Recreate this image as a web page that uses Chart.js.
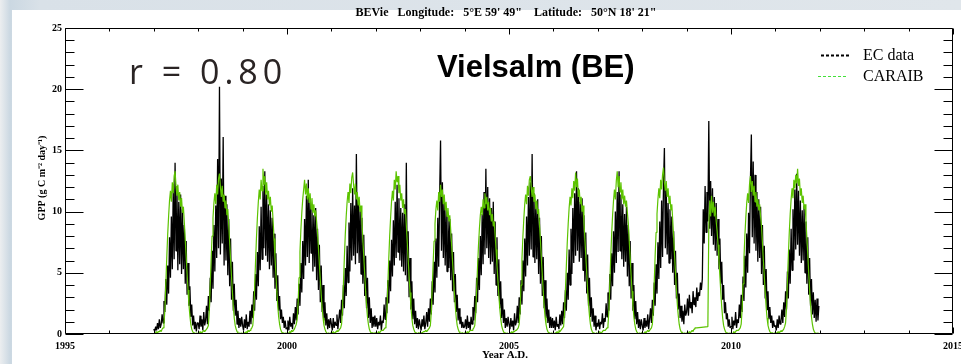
<!DOCTYPE html>
<html>
<head>
<meta charset="utf-8">
<title>Vielsalm GPP</title>
<script src="https://cdn.jsdelivr.net/npm/chart.js@4.4.1/dist/chart.umd.min.js"></script>
<style>
  html, body { margin: 0; padding: 0; }
  body {
    width: 961px; height: 364px; overflow: hidden; position: relative;
    background: linear-gradient(to right, #eceef0 0px, #cbd8e2 10px, #d9e1e8 40px, #e0e6eb 100%);
  }
  #panel { position: absolute; left: 12px; top: 10px; right: 0; bottom: 0; background: #fff; }
  #c { position: absolute; left: 0; top: 0; }
</style>
</head>
<body>
<div id="panel"></div>
<canvas id="c" width="961" height="364"></canvas>
<script>
// Daily GPP at Vielsalm, sampled 48 times per year (g C m-2 day-1)
const years = [1997, 1998, 1999, 2000, 2001, 2002, 2003, 2004, 2005, 2006, 2007, 2008, 2009, 2010, 2011];
const samplesPerYear = 48;

// Eddy-covariance observations
const ec1997 = [0.4,0.2,0.6,0.3,0.9,0.4,1.2,0.5,0.8,1.6, 0.9,2.7,1.8,4.5,2.4,5.6,3.3,7.9,4.6,9.6, 5.3,11.8,6.1,14.0,6.8,12.1,5.2,10.8,5.7,11.4, 4.9,10.2,5.3,8.9,4.1,7.6,3.2,5.8,2.3,3.9, 1.4,2.4,0.7,1.5,0.4,1.0,0.2,0.9];
const ec1998 = [0.9,0.4,1.5,0.6,1.2,0.3,1.8,0.7,1.1,2.3, 0.8,3.1,1.9,4.6,2.6,6.8,3.7,8.9,5.1,10.5, 6.2,14.3,7.0,20.2,6.5,12.7,7.4,16.1,5.6,11.3, 6.0,10.6,4.8,9.4,3.9,7.8,2.8,5.9,1.9,4.1, 1.5,2.8,0.8,1.9,0.5,1.3,0.6,1.4];
const ec1999 = [0.7,0.3,1.2,0.5,1.6,0.4,1.0,0.6,1.9,0.8, 2.4,1.3,3.5,1.9,4.9,2.8,6.7,3.9,8.8,5.2, 10.4,6.1,12.1,7.0,13.3,6.4,11.4,5.9,10.6,5.3, 10.1,5.6,9.5,4.6,8.2,3.7,6.6,2.7,4.8,1.9, 3.1,1.2,2.0,0.9,1.4,0.5,1.1,0.4];
const ec2000 = [0.5,1.1,0.3,1.4,0.6,0.9,0.4,1.7,0.8,2.2, 1.1,2.9,1.6,4.1,2.3,5.8,3.4,7.6,4.5,9.4, 5.6,11.3,6.3,12.6,5.8,11.0,6.6,10.4,5.1,9.7, 5.5,10.3,4.4,8.6,3.6,7.3,2.6,5.6,1.8,4.0, 1.1,2.6,0.7,1.7,0.4,1.2,0.5,1.3];
const ec2001 = [0.8,0.3,1.3,0.5,1.0,0.7,1.6,0.4,1.2,2.0, 0.9,2.8,1.5,4.0,2.1,5.4,3.1,7.2,4.2,9.1, 5.1,10.7,6.0,11.9,6.4,10.5,5.7,14.7,6.6,10.9, 5.8,10.4,4.9,9.5,4.1,8.1,3.1,6.4,2.1,4.6, 1.3,3.0,0.9,2.1,0.5,1.4,0.6,1.5];
const ec2002 = [0.6,1.3,0.4,1.0,0.7,1.5,0.3,1.1,0.9,2.4, 1.2,3.0,1.7,4.4,2.5,6.0,3.5,7.7,4.7,9.3, 5.6,10.8,6.2,12.2,6.7,11.1,6.0,10.3,5.5,9.9, 5.1,10.6,4.8,14.0,4.3,8.4,3.0,6.2,2.0,4.3, 1.2,2.9,0.8,1.9,0.5,1.3,0.4,1.2];
const ec2003 = [0.7,0.3,1.2,0.6,1.5,0.4,0.9,1.8,0.6,2.1, 1.0,2.9,1.6,4.3,2.4,5.9,3.4,7.8,4.6,9.5, 5.5,11.2,15.8,6.8,12.4,6.2,10.9,5.6,10.2,5.1, 9.8,5.4,9.4,4.4,8.2,3.5,6.7,2.6,4.9,1.8, 3.2,1.1,2.1,0.8,1.4,0.5,1.0,0.5];
const ec2004 = [0.6,1.2,0.4,1.5,0.5,1.0,0.3,1.4,0.8,2.2, 1.1,3.1,1.7,4.6,2.6,6.2,3.6,8.0,4.8,9.8, 5.7,11.6,6.5,13.5,7.0,12.0,6.2,11.1,5.7,10.3, 5.9,10.8,4.9,9.2,4.0,7.9,3.1,6.1,2.1,4.3, 1.3,2.9,0.9,2.0,0.5,1.3,0.6,1.4];
const ec2005 = [0.8,0.4,1.3,0.6,1.1,0.3,1.7,0.7,1.0,2.3, 0.9,3.0,1.6,4.4,2.4,6.0,3.5,7.8,4.7,9.6, 5.6,11.2,6.4,12.4,6.9,14.7,6.3,11.5,5.8,10.6, 6.1,11.0,4.9,9.5,4.1,8.0,3.1,6.3,2.1,4.4, 1.3,2.9,0.9,2.0,0.5,1.4,0.5,1.3];
const ec2006 = [0.5,1.1,0.3,1.4,0.6,0.8,0.4,1.6,0.7,1.9, 0.8,2.6,1.3,3.6,1.9,5.0,2.8,6.9,4.0,8.6, 4.9,10.3,5.8,11.5,6.4,13.3,6.8,11.9,5.9,10.8, 6.2,11.1,5.2,9.7,4.3,8.3,3.3,6.5,2.3,4.6, 1.4,3.0,1.0,2.1,0.6,1.5,0.3,0.9];
const ec2007 = [0.6,1.2,0.4,1.0,0.8,1.7,0.5,1.3,1.0,2.5, 1.4,3.4,1.9,4.9,2.8,6.6,3.9,8.4,5.0,10.0, 5.8,11.6,6.7,13.3,6.8,11.4,6.1,10.6,5.5,9.8, 5.9,10.4,4.7,8.9,3.9,7.6,2.9,5.8,1.9,4.0, 1.2,2.7,0.8,1.8,0.5,1.2,0.4,1.2];
const ec2008 = [0.7,0.3,1.3,0.5,1.1,0.6,1.6,0.4,1.2,2.1, 0.9,2.8,1.5,4.2,2.3,5.7,3.3,7.5,4.5,9.2, 5.4,10.9,6.3,12.1,15.2,7.0,11.8,6.5,10.7,5.8, 10.2,6.1,9.6,5.0,8.4,4.0,6.8,2.9,5.0,2.0, 3.3,1.3,2.3,1.0,1.9,0.8,2.4,1.5];
const ec2009 = [1.8,2.9,1.5,3.2,2.1,2.6,1.7,3.5,2.4,3.0, 2.2,3.8,2.7,3.4,3.1,4.2,3.6,4.5,10.2,7.4, 12.1,8.3,11.6,9.2,17.4,8.6,12.5,8.0,11.9,7.3, 11.2,6.8,10.7,6.4,9.4,5.3,7.8,4.1,5.9,2.8, 4.0,1.7,2.6,1.2,1.7,0.6,1.2,0.5];
const ec2010 = [0.6,1.4,0.4,1.1,0.7,1.8,0.5,1.2,0.9,2.4, 1.3,3.2,1.8,4.7,2.7,6.4,3.8,8.2,5.0,9.9, 6.6,12.5,16.3,7.9,14.1,7.4,13.0,6.8,11.6,5.9, 11.0,6.2,10.4,4.9,8.9,4.0,7.2,2.9,5.3,2.0, 3.5,1.2,2.2,0.9,1.5,0.5,1.1,0.6];
const ec2011 = [0.7,0.3,1.2,0.5,1.5,0.8,1.0,2.0,0.9,2.6, 1.4,3.5,2.0,5.1,2.9,6.9,4.1,8.6,5.2,10.2, 6.0,11.8,6.9,13.1,7.3,11.7,6.4,10.9,5.8,10.1, 6.0,10.5,5.0,9.2,4.1,7.9,3.2,6.2,2.3,4.5, 1.6,3.4,1.3,2.8,1.0,2.9,1.1,2.3];

// CARAIB model output (null = no model value)
const car1997 = [0.0,0.1,0.1,0.2,0.1,0.2,0.2,0.3,0.2,0.4, 0.5,0.8,2.0,4.1,6.2,8.1,9.6,10.9,11.7,10.8, 12.4,11.5,12.9,13.3,12.1,11.3,12.2,10.9,11.6,10.4, 11.1,9.9,10.4,9.1,7.7,6.3,4.9,3.6,2.4,1.5, 0.8,0.4,0.2,0.1,0.1,0.0,0.1,0.0];
const car1998 = [0.1,0.0,0.2,0.1,0.1,0.2,0.3,0.2,0.3,0.4, 0.5,0.7,1.9,4.0,6.1,8.0,9.5,10.7,11.5,10.6, 12.2,11.4,12.7,13.1,12.0,11.2,12.1,10.8,11.4,10.3, 10.9,9.7,10.2,8.9,7.5,6.1,4.7,3.4,2.2,1.3, 0.7,0.4,0.2,0.1,0.0,0.1,0.0,0.1];
const car1999 = [0.0,0.1,0.1,0.1,0.2,0.1,0.3,0.2,0.3,0.4, 0.5,0.7,1.7,3.8,5.9,7.9,9.5,10.8,11.8,11.0, 12.6,11.7,13.5,12.2,12.9,11.4,12.4,11.0,11.7,10.5, 11.2,10.0,10.5,9.2,7.8,6.3,4.9,3.5,2.3,1.4, 0.8,0.4,0.2,0.1,0.1,0.0,0.1,0.0];
const car2000 = [0.1,0.0,0.1,0.2,0.1,0.3,0.2,0.3,0.4,0.6, 0.8,1.2,2.5,4.6,6.7,8.5,9.9,11.0,11.8,12.6, 11.4,12.3,11.0,11.9,10.7,11.5,10.2,11.1,9.9,10.6, 9.6,10.1,9.2,8.3,7.0,5.7,4.4,3.2,2.1,1.3, 0.7,0.4,0.2,0.1,0.0,0.1,0.0,0.1];
const car2001 = [0.0,0.1,0.2,0.1,0.1,0.2,0.3,0.2,0.3,0.4, 0.5,0.8,2.0,4.1,6.2,8.1,9.6,10.8,11.6,10.7, 12.3,11.5,12.8,13.2,12.2,11.4,12.3,11.0,11.6,10.5, 11.2,10.0,10.5,9.2,7.7,6.3,4.9,3.5,2.3,1.4, 0.8,0.4,0.2,0.1,0.1,0.1,0.0,0.1];
const car2002 = [0.1,0.1,0.0,0.2,0.1,0.2,0.3,0.3,0.3,0.4, 0.5,0.7,1.9,4.0,6.1,8.0,9.5,10.8,11.7,10.9, 12.6,11.8,13.3,12.4,12.9,11.5,12.2,10.9,11.5,10.3, 11.0,9.8,10.2,8.9,7.5,6.1,4.7,3.4,2.2,1.3, 0.7,0.4,0.2,0.1,0.1,0.0,0.1,0.1];
const car2003 = [0.0,0.1,0.1,0.1,0.2,0.2,0.3,0.2,0.3,0.4, 0.5,0.7,1.8,3.8,5.8,7.6,9.0,10.2,10.9,10.1, 11.6,10.8,12.2,11.2,11.8,10.6,11.4,10.1,10.8,9.6, 10.3,9.2,9.7,8.5,7.2,5.9,4.6,3.3,2.2,1.3, 0.7,0.4,0.2,0.1,0.0,0.1,0.1,0.0];
const car2004 = [0.1,0.0,0.1,0.2,0.1,0.2,0.3,0.3,0.3,0.4, 0.5,0.7,1.7,3.6,5.5,7.2,8.6,9.7,10.4,9.7, 11.0,10.3,11.5,10.6,11.2,10.1,10.8,9.7,10.3,9.2, 9.8,8.8,9.2,8.1,6.9,5.6,4.4,3.2,2.1,1.3, 0.7,0.4,0.2,0.1,0.1,0.0,0.1,0.0];
const car2005 = [0.0,0.1,0.1,0.2,0.1,0.2,0.2,0.3,0.3,0.4, 0.5,0.8,1.9,4.0,6.1,7.9,9.4,10.6,11.4,10.6, 12.1,11.3,12.6,12.9,12.0,11.2,12.0,10.8,11.4,10.2, 10.9,9.8,10.2,8.9,7.6,6.2,4.8,3.5,2.3,1.4, 0.8,0.4,0.2,0.1,0.1,0.0,0.1,0.0];
const car2006 = [0.1,0.0,0.1,0.1,0.2,0.1,0.3,0.2,0.3,0.4, 0.5,0.6,1.6,3.6,5.6,7.5,9.0,10.3,11.2,10.5, 11.9,11.1,12.5,11.7,13.2,12.0,12.7,11.2,11.8,10.6, 11.2,10.0,10.5,9.2,7.8,6.4,5.0,3.6,2.4,1.5, 0.8,0.4,0.2,0.1,0.1,0.0,0.0,0.1];
const car2007 = [0.0,0.1,0.2,0.1,0.1,0.2,0.3,0.3,0.3,0.4, 0.5,0.7,1.9,4.1,6.3,8.2,9.7,10.9,11.8,11.0, 12.5,13.3,12.0,12.9,11.6,12.4,11.0,11.8,10.6,11.3, 10.4,10.9,9.9,9.0,7.6,6.2,4.8,3.5,2.3,1.4, 0.8,0.4,0.2,0.1,0.0,0.1,0.0,0.1];
const car2008 = [0.1,0.0,0.1,0.2,0.1,0.2,0.3,0.2,0.3,0.4, 0.5,0.8,2.0,4.2,6.4,8.3,9.8,11.0,11.9,11.1, 12.6,11.8,13.0,13.6,12.4,11.7,12.5,11.2,11.9,10.7, 11.3,10.1,10.6,9.3,7.9,6.4,5.0,3.6,2.4,1.5, 0.8,0.4,0.2,0.1,0.1,0.0,0.1,0.0];
const car2009 = [0.1,0.0,0.1,0.2,0.1,0.2,0.3,0.2,0.4,0.5, 0.5,0.5,null,null,null,null,null,null,null,null, null,null,null,0.6,8.8,10.9,9.6,11.3,9.9,10.8, 9.6,10.4,9.2,8.4,7.3,6.0,4.7,3.4,2.2,1.3, 0.7,0.4,0.2,0.1,0.1,0.0,0.1,0.0];
const car2010 = [0.1,0.1,0.0,0.2,0.1,0.2,0.3,0.3,0.3,0.4, 0.5,0.8,2.0,4.1,6.2,8.0,9.5,10.7,11.5,10.7, 12.2,12.9,11.6,12.5,11.3,12.1,10.8,11.6,10.4,11.0, 10.1,10.6,9.6,8.8,7.4,6.0,4.7,3.4,2.2,1.3, 0.7,0.4,0.2,0.1,0.1,0.1,0.0,0.1];
const car2011 = [0.0,0.1,0.1,0.2,0.1,0.2,0.3,0.2,0.3,0.4, 0.6,0.9,2.1,4.3,6.4,8.3,9.8,11.0,11.9,11.1, 12.6,11.9,13.0,12.3,13.5,12.1,12.7,11.3,11.9,10.7, 11.3,10.2,10.6,9.3,7.9,6.5,5.0,3.6,2.4,1.4, 0.8,0.4,0.2,0.1,0.0,0.1,0.0,0.1];

const ecYears = [ec1997, ec1998, ec1999, ec2000, ec2001, ec2002, ec2003, ec2004, ec2005, ec2006, ec2007, ec2008, ec2009, ec2010, ec2011];
const caraibYears = [car1997, car1998, car1999, car2000, car2001, car2002, car2003, car2004, car2005, car2006, car2007, car2008, car2009, car2010, car2011];

// Axis ranges and tick steps
const xRange = [1995, 2015];
const yRange = [0, 25];
const xMajorStep = 5, yMajorStep = 5;

// Text
const plotTitle = 'BEVie   Longitude:   5\u00B0E 59\' 49"    Latitude:   50\u00B0N 18\' 21"';
const siteName = 'Vielsalm (BE)';
const corrText = 'r = 0.80';
const xTitle = 'Year A.D.';
const yTitle = 'GPP (g C m\u207B\u00B2 day\u207B\u00B9)';
const seriesNames = ['EC data', 'CARAIB'];

function toPoints(yearArrays) {
  const pts = [];
  yearArrays.forEach((vals, k) => {
    vals.forEach((v, i) => pts.push({ x: years[k] + i / samplesPerYear, y: v }));
  });
  return pts;
}

const SERIF = '"Liberation Serif", "Times New Roman", serif';

// Box, inward ticks, titles, legend and labels drawn over the plot
const decorations = {
  id: 'decorations',
  afterDraw(chart) {
    const { ctx, chartArea: a, scales } = chart;
    const xs = scales.x, ys = scales.y;
    const L = Math.round(a.left) + 0.5, R = Math.round(a.right) - 0.5;
    const T = Math.round(a.top) + 0.5, B = Math.round(a.bottom) - 0.5;
    ctx.save();
    ctx.strokeStyle = '#000';
    ctx.lineWidth = 1;
    ctx.beginPath();
    ctx.rect(L, T, R - L, B - T);
    for (let v = yRange[0]; v <= yRange[1]; v++) {
      const py = Math.round(ys.getPixelForValue(v)) + 0.5;
      const len = v % yMajorStep === 0 ? 18 : 9;
      ctx.moveTo(L, py); ctx.lineTo(L + len, py);
      ctx.moveTo(R, py); ctx.lineTo(R - len, py);
    }
    for (let yr = xRange[0]; yr <= xRange[1]; yr++) {
      const px = Math.round(xs.getPixelForValue(yr)) + 0.5;
      const len = yr % xMajorStep === 0 ? 6 : 3;
      ctx.moveTo(px, B); ctx.lineTo(px, B - len);
      ctx.moveTo(px, T); ctx.lineTo(px, T + len);
    }
    ctx.stroke();

    const cx = (a.left + a.right) / 2;
    ctx.fillStyle = '#000';
    ctx.textAlign = 'center';
    ctx.textBaseline = 'middle';
    ctx.font = 'bold 12px ' + SERIF;
    ctx.fillText(plotTitle, cx - 3, 13);
    ctx.font = 'bold 11px ' + SERIF;
    ctx.fillText(xTitle, cx - 4, 355);
    ctx.save();
    ctx.translate(42, (a.top + a.bottom) / 2 - 3);
    ctx.rotate(-Math.PI / 2);
    ctx.font = 'bold 10px ' + SERIF;
    ctx.fillText(yTitle, 0, 0);
    ctx.restore();

    // Legend
    ctx.textAlign = 'left';
    ctx.font = '16px ' + SERIF;
    ctx.setLineDash([3, 2]);
    ctx.lineWidth = 2;
    ctx.strokeStyle = '#000';
    ctx.beginPath(); ctx.moveTo(821, 55.5); ctx.lineTo(849, 55.5); ctx.stroke();
    ctx.lineWidth = 1;
    ctx.strokeStyle = '#44e03a';
    ctx.beginPath(); ctx.moveTo(818, 76.5); ctx.lineTo(848, 76.5); ctx.stroke();
    ctx.setLineDash([]);
    ctx.fillText(seriesNames[0], 863, 56);
    ctx.fillText(seriesNames[1], 863, 77);

    // Site name and correlation
    ctx.textBaseline = 'alphabetic';
    ctx.font = 'bold 31px "Liberation Sans", Arial, sans-serif';
    ctx.fillText(siteName, 437, 77);
    ctx.fillStyle = '#2a2424';
    ctx.font = '34px "Open Sans", sans-serif';
    ctx.letterSpacing = '5px';
    ctx.fillText(corrText, 129, 84);
    ctx.restore();
  }
};

const tickFont = { family: SERIF, weight: 'bold', size: 10 };

new Chart(document.getElementById('c'), {
  type: 'line',
  data: {
    datasets: [
      {
        label: seriesNames[1],
        data: toPoints(caraibYears),
        borderColor: '#5cc300',
        borderWidth: 1.2,
        borderJoinStyle: 'bevel',
        pointRadius: 0,
        spanGaps: true,
        tension: 0
      },
      {
        label: seriesNames[0],
        data: toPoints(ecYears),
        borderColor: '#000000',
        borderWidth: 1.3,
        borderJoinStyle: 'bevel',
        pointRadius: 0,
        tension: 0
      }
    ]
  },
  options: {
    responsive: false,
    animation: false,
    events: [],
    layout: { padding: { top: 28, right: 8, left: 0, bottom: 0 } },
    plugins: { legend: { display: false }, tooltip: { enabled: false }, title: { display: false } },
    scales: {
      x: {
        type: 'linear',
        min: xRange[0], max: xRange[1],
        grid: { display: false, drawTicks: false },
        border: { display: false },
        ticks: { stepSize: xMajorStep, autoSkip: false, maxRotation: 0, color: '#000', font: tickFont, padding: 6,
                 callback: v => String(v) },
        afterFit(s) { s.height = 30; s.paddingLeft = 0; s.paddingRight = 0; }
      },
      y: {
        min: yRange[0], max: yRange[1],
        grid: { display: false, drawTicks: false },
        border: { display: false },
        ticks: { stepSize: yMajorStep, color: '#000', font: tickFont, padding: 3 },
        afterFit(s) { s.width = 65; s.paddingTop = 0; s.paddingBottom = 0; }
      }
    }
  },
  plugins: [decorations]
});
</script>
</body>
</html>
